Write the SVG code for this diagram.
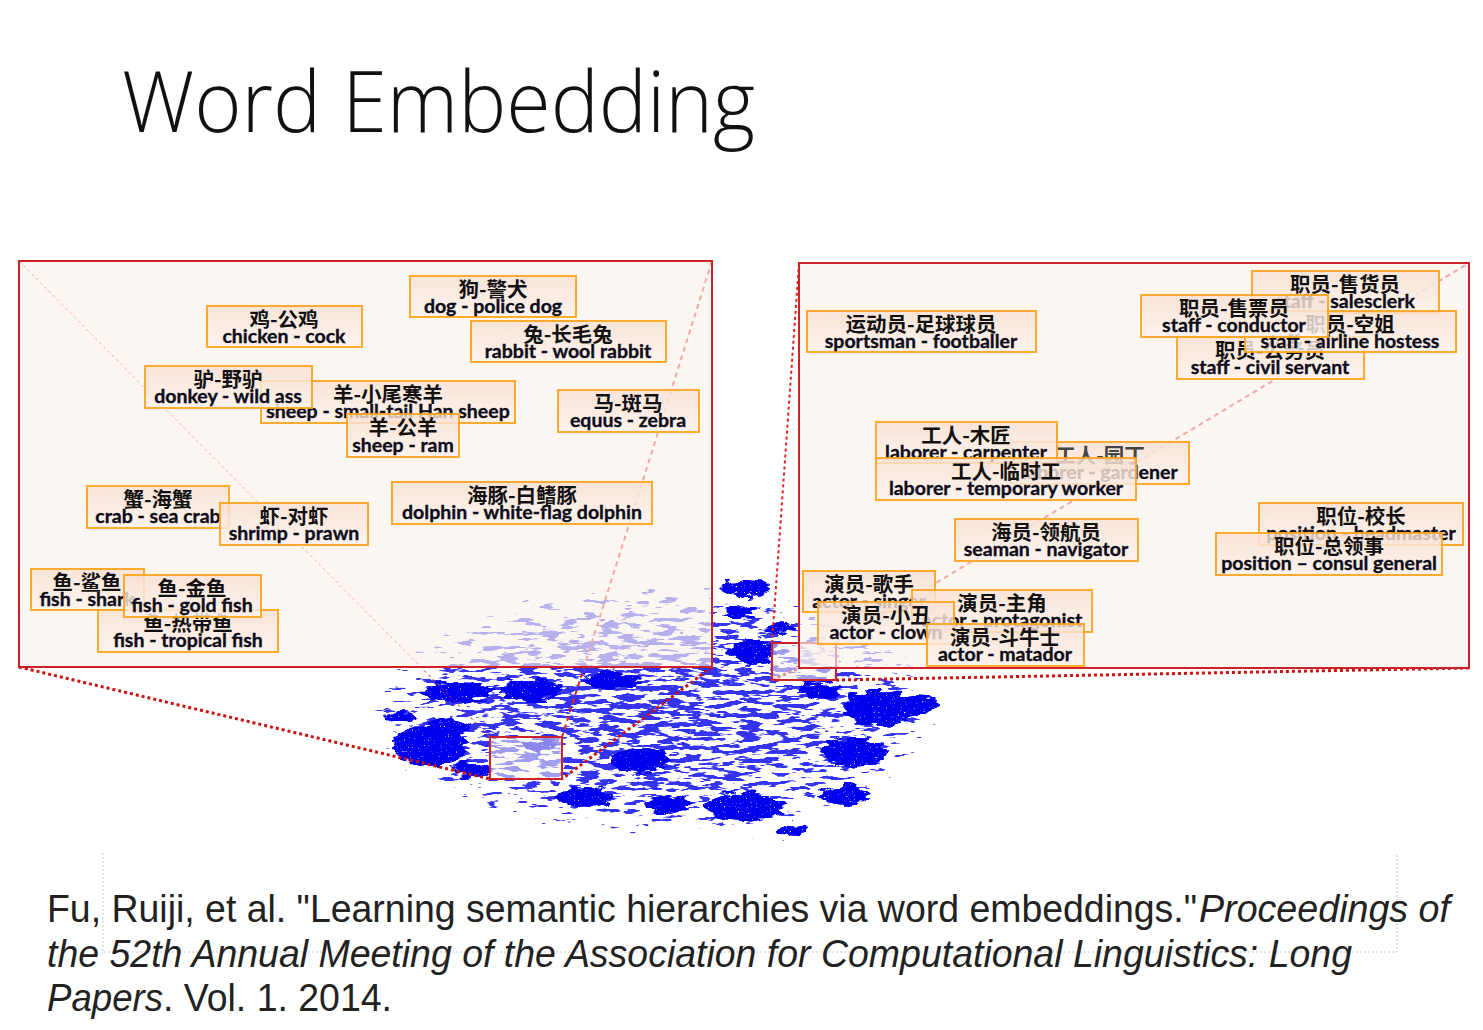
<svg xmlns="http://www.w3.org/2000/svg" width="1483" height="1030" viewBox="0 0 1483 1030">
<defs>
<style>
.title{font-family:"Open Sans","Liberation Sans",sans-serif;font-weight:300;font-size:84px;fill:#111}
.panel{fill:#faf2eb;fill-opacity:0.66;stroke:#cc2229;stroke-width:2}
.mini{fill:#faf2eb;fill-opacity:0.55;stroke:#cc2229;stroke-width:2}
.box{fill:url(#boxg);fill-opacity:0.82;stroke:#ffa31a;stroke-width:2;stroke-opacity:0.9}
.zh{font-family:"Noto Sans CJK SC",sans-serif;font-weight:700;font-size:20.5px;text-anchor:middle;fill:#111}
.en{font-family:"Lato","Liberation Sans",sans-serif;font-weight:700;font-size:19.5px;text-anchor:middle;fill:#0d0d1a;stroke:#0d0d1a;stroke-width:0.35}
.thick{fill:none;stroke:#cc1111;stroke-width:3;stroke-dasharray:3 3}
.thin{fill:none;stroke:#dd2222;stroke-width:1;stroke-dasharray:3 3}
.med{fill:none;stroke:#dd2222;stroke-width:2;stroke-dasharray:5 4}
.cite{font-family:"Liberation Sans",Arial,sans-serif;font-size:38px;fill:#222}
.cl{fill:#0000ee}
</style>
<linearGradient id="boxg" x1="0" y1="0" x2="0" y2="1">
<stop offset="0" stop-color="#f8e0d2"/>
<stop offset="1" stop-color="#fcf2ec"/>
</linearGradient>
<radialGradient id="dens" cx="0.5" cy="0.5" r="0.5">
<stop offset="0" stop-color="#000" stop-opacity="1"/>
<stop offset="0.6" stop-color="#000" stop-opacity="0.88"/>
<stop offset="0.9" stop-color="#000" stop-opacity="0.58"/>
<stop offset="1" stop-color="#000" stop-opacity="0"/>
</radialGradient>
<filter id="speckle" x="0" y="0" width="1" height="1" color-interpolation-filters="sRGB">
<feTurbulence type="fractalNoise" baseFrequency="0.05 0.22" numOctaves="3" seed="11" result="n"/>
<feComposite in="n" in2="SourceGraphic" operator="arithmetic" k1="0" k2="1" k3="0.5" k4="0" result="c"/>
<feColorMatrix in="c" type="matrix" values="0 0 0 0 0  0 0 0 0 0  0 0 0 0 0.93  0 0 0 16 -15.2" result="m"/>
<feTurbulence type="fractalNoise" baseFrequency="0.5 0.8" numOctaves="1" seed="5" result="h"/>
<feColorMatrix in="h" type="matrix" values="0 0 0 0 0  0 0 0 0 0  0 0 0 0 0  0 0 0 8 -1.2" result="hm"/>
<feComposite in="m" in2="hm" operator="in"/>
</filter>
<filter id="clump" x="-30%" y="-60%" width="160%" height="220%" color-interpolation-filters="sRGB">
<feTurbulence type="fractalNoise" baseFrequency="0.07 0.18" numOctaves="2" seed="4" result="t"/>
<feDisplacementMap in="SourceGraphic" in2="t" scale="16" xChannelSelector="R" yChannelSelector="G" result="d"/>
<feTurbulence type="fractalNoise" baseFrequency="0.5 0.8" numOctaves="1" seed="2" result="h"/>
<feColorMatrix in="h" type="matrix" values="0 0 0 0 0  0 0 0 0 0  0 0 0 0 0  0 0 0 8 -1.6" result="hm"/>
<feComposite in="d" in2="hm" operator="in"/>
</filter>
</defs>
<rect width="1483" height="1030" fill="#fff"/>

<text class="title" x="122" y="132" textLength="633" lengthAdjust="spacingAndGlyphs">Word Embedding</text>

<g id="scatter">
<ellipse cx="655" cy="710" rx="300" ry="132" fill="url(#dens)" filter="url(#speckle)"/>
<g filter="url(#clump)">
<ellipse class="cl" cx="430" cy="745" rx="38" ry="20"/>
<ellipse class="cl" cx="458" cy="692" rx="34" ry="11"/>
<ellipse class="cl" cx="400" cy="716" rx="16" ry="5"/>
<ellipse class="cl" cx="448" cy="727" rx="22" ry="7"/>
<ellipse class="cl" cx="530" cy="690" rx="30" ry="11"/>
<ellipse class="cl" cx="472" cy="770" rx="20" ry="7"/>
<ellipse class="cl" cx="585" cy="797" rx="28" ry="10"/>
<ellipse class="cl" cx="752" cy="652" rx="25" ry="12"/>
<ellipse class="cl" cx="745" cy="588" rx="25" ry="8"/>
<ellipse class="cl" cx="740" cy="613" rx="16" ry="6"/>
<ellipse class="cl" cx="780" cy="628" rx="14" ry="6"/>
<ellipse class="cl" cx="880" cy="708" rx="36" ry="18"/>
<ellipse class="cl" cx="915" cy="706" rx="22" ry="10"/>
<ellipse class="cl" cx="855" cy="752" rx="32" ry="15"/>
<ellipse class="cl" cx="745" cy="807" rx="40" ry="14"/>
<ellipse class="cl" cx="668" cy="805" rx="22" ry="9"/>
<ellipse class="cl" cx="792" cy="830" rx="15" ry="6"/>
<ellipse class="cl" cx="640" cy="760" rx="30" ry="12"/>
<ellipse class="cl" cx="845" cy="795" rx="26" ry="10"/>
<ellipse class="cl" cx="612" cy="680" rx="28" ry="9"/>
<ellipse class="cl" cx="820" cy="690" rx="20" ry="8"/>
<ellipse class="cl" cx="540" cy="745" rx="18" ry="6"/>
</g>
</g>

<g id="connectors">
<line class="thin" x1="19" y1="261" x2="490" y2="737"/>
<line class="med" x1="712" y1="261" x2="562" y2="737"/>
<line class="thick" x1="19" y1="667" x2="490" y2="779"/>
<line class="thick" x1="712" y1="667" x2="562" y2="779"/>
<rect class="mini" x="490" y="737" width="72" height="42"/>
<line class="med" x1="836" y1="643" x2="1469" y2="263"/>
<line class="thin" style="stroke-width:2" x1="799" y1="263" x2="772" y2="643"/>
<line class="thick" x1="772" y1="680" x2="799" y2="668"/>
<line class="thick" x1="836" y1="680" x2="1469" y2="668"/>
<rect class="mini" x="772" y="643" width="64" height="37"/>
</g>

<g id="panel-left"><rect class="panel" x="19" y="261" width="693" height="406"/></g>
<g id="panel-right"><rect class="panel" x="799" y="263" width="670" height="405"/></g>

<g id="n-dog"><rect class="box" x="410" y="276" width="166" height="41"/><text class="zh" x="493" y="297">狗-警犬</text><text class="en" x="493" y="313">dog - police dog</text></g>
<g id="n-chicken"><rect class="box" x="207" y="306" width="155" height="41"/><text class="zh" x="284" y="327">鸡-公鸡</text><text class="en" x="284" y="343">chicken - cock</text></g>
<g id="n-rabbit"><rect class="box" x="471" y="321" width="195" height="41"/><text class="zh" x="568" y="342">兔-长毛兔</text><text class="en" x="568" y="358">rabbit - wool rabbit</text></g>
<g id="n-sheep-han"><rect class="box" x="261" y="381" width="254" height="42"/><text class="zh" x="388" y="402">羊-小尾寒羊</text><text class="en" x="388" y="418">sheep - small-tail Han sheep</text></g>
<g id="n-donkey"><rect class="box" x="145" y="366" width="167" height="42"/><text class="zh" x="228" y="387">驴-野驴</text><text class="en" x="228" y="403">donkey - wild ass</text></g>
<g id="n-ram"><rect class="box" x="347" y="414" width="112" height="43"/><text class="zh" x="403" y="435">羊-公羊</text><text class="en" x="403" y="452">sheep - ram</text></g>
<g id="n-zebra"><rect class="box" x="558" y="390" width="141" height="42"/><text class="zh" x="628" y="411">马-斑马</text><text class="en" x="628" y="427">equus - zebra</text></g>
<g id="n-crab"><rect class="box" x="87" y="486" width="142" height="42"/><text class="zh" x="158" y="507">蟹-海蟹</text><text class="en" x="158" y="523">crab - sea crab</text></g>
<g id="n-shrimp"><rect class="box" x="220" y="503" width="148" height="42"/><text class="zh" x="294" y="524">虾-对虾</text><text class="en" x="294" y="540">shrimp - prawn</text></g>
<g id="n-dolphin"><rect class="box" x="392" y="482" width="260" height="42"/><text class="zh" x="522" y="503">海豚-白鳍豚</text><text class="en" x="522" y="519">dolphin - white-flag dolphin</text></g>
<g id="n-shark"><rect class="box" x="31" y="569" width="113" height="41"/><text class="zh" x="87" y="590">鱼-鲨鱼</text><text class="en" x="87" y="606">fish - shark</text></g>
<g id="n-tropical"><rect class="box" x="98" y="610" width="180" height="42"/><text class="zh" x="188" y="631">鱼-热带鱼</text><text class="en" x="188" y="647">fish - tropical fish</text></g>
<g id="n-goldfish"><rect class="box" x="124" y="575" width="137" height="42"/><text class="zh" x="192" y="596">鱼-金鱼</text><text class="en" x="192" y="612">fish - gold fish</text></g>

<g id="n-sportsman"><rect class="box" x="807" y="311" width="229" height="41"/><text class="zh" x="921" y="332">运动员-足球球员</text><text class="en" x="921" y="348">sportsman - footballer</text></g>
<g id="n-civil"><rect class="box" x="1177" y="337" width="187" height="42"/><text class="zh" x="1270" y="358">职员-公务员</text><text class="en" x="1270" y="374">staff - civil servant</text></g>
<g id="n-salesclerk"><rect class="box" x="1252" y="271" width="187" height="42"/><text class="zh" x="1345" y="292">职员-售货员</text><text class="en" x="1345" y="308">staff - salesclerk</text></g>
<g id="n-hostess"><rect class="box" x="1245" y="311" width="211" height="41"/><text class="zh" x="1350" y="332">职员-空姐</text><text class="en" x="1350" y="348">staff - airline hostess</text></g>
<g id="n-conductor"><rect class="box" x="1141" y="295" width="187" height="42"/><text class="zh" x="1234" y="316">职员-售票员</text><text class="en" x="1234" y="332">staff - conductor</text></g>
<g id="n-gardener"><rect class="box" x="1011" y="442" width="178" height="42"/><text class="zh" x="1100" y="463" style="fill:#444">工人-园丁</text><text class="en" x="1100" y="479">laborer - gardener</text></g>
<g id="n-carpenter"><rect class="box" x="876" y="422" width="181" height="41"/><text class="zh" x="966" y="443">工人-木匠</text><text class="en" x="966" y="459">laborer - carpenter</text></g>
<g id="n-temporary"><rect class="box" x="876" y="458" width="260" height="42"/><text class="zh" x="1006" y="479">工人-临时工</text><text class="en" x="1006" y="495">laborer - temporary worker</text></g>
<g id="n-navigator"><rect class="box" x="955" y="519" width="183" height="42"/><text class="zh" x="1046" y="540">海员-领航员</text><text class="en" x="1046" y="556">seaman - navigator</text></g>
<g id="n-headmaster"><rect class="box" x="1259" y="503" width="204" height="42"/><text class="zh" x="1361" y="524">职位-校长</text><text class="en" x="1361" y="540">position - headmaster</text></g>
<g id="n-consul"><rect class="box" x="1216" y="533" width="226" height="42"/><text class="zh" x="1329" y="554">职位-总领事</text><text class="en" x="1329" y="570">position – consul general</text></g>
<g id="n-singer"><rect class="box" x="803" y="571" width="132" height="41"/><text class="zh" x="869" y="592">演员-歌手</text><text class="en" x="869" y="608">actor - singer</text></g>
<g id="n-protagonist"><rect class="box" x="912" y="590" width="180" height="42"/><text class="zh" x="1002" y="611">演员-主角</text><text class="en" x="1002" y="627">actor - protagonist</text></g>
<g id="n-clown"><rect class="box" x="818" y="602" width="136" height="42"/><text class="zh" x="886" y="623">演员-小丑</text><text class="en" x="886" y="639">actor - clown</text></g>
<g id="n-matador"><rect class="box" x="927" y="624" width="157" height="42"/><text class="zh" x="1005" y="645">演员-斗牛士</text><text class="en" x="1005" y="661">actor - matador</text></g>

<g id="citation">
<path d="M103,853 V952 H1397 V853" fill="none" stroke="#c8c8c8" stroke-width="1" stroke-dasharray="2 2"/>
<text class="cite" x="47" y="922" textLength="1150" lengthAdjust="spacingAndGlyphs">Fu, Ruiji, et al. "Learning semantic hierarchies via word embeddings."</text>
<text class="cite" x="1199" y="922" font-style="italic" textLength="251" lengthAdjust="spacingAndGlyphs">Proceedings of</text>
<text class="cite" x="47" y="967" font-style="italic" textLength="1305" lengthAdjust="spacingAndGlyphs">the 52th Annual Meeting of the Association for Computational Linguistics: Long</text>
<text class="cite" x="47" y="1011" font-style="italic" textLength="116" lengthAdjust="spacingAndGlyphs">Papers</text>
<text class="cite" x="163" y="1011" textLength="229" lengthAdjust="spacingAndGlyphs">. Vol. 1. 2014.</text>
</g>
</svg>
